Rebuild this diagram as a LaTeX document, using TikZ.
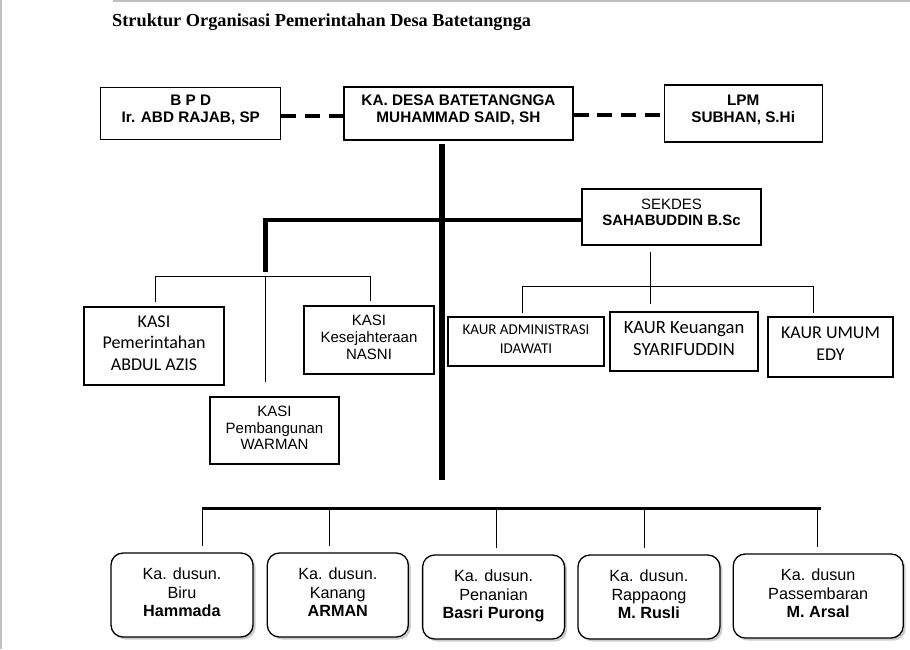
\documentclass[tikz,border=0pt]{standalone}
\usepackage{fontspec}
\setmainfont{Liberation Sans}
\newfontfamily\headserif{Liberation Serif}
\newfontfamily\calfont{Carlito}
\usetikzlibrary{positioning,calc,shadows}
\newcommand\hstrut{\rule[-0.55\baselineskip]{0pt}{1.25\baselineskip}}
\newcommand\lstrut{\rule[-0.1\baselineskip]{0pt}{0.8\baselineskip}}

\begin{document}
\begin{tikzpicture}[x=1pt, y=-1pt,
						every node/.style={align=center, inner sep=0pt},
						head/.style={draw, line width=1.2pt, font=\fontsize{15.3}{16.6}\selectfont\bfseries,
							execute at begin node=\hstrut, execute at end node=\hstrut},
						kasi/.style={draw, line width=1.2pt, font=\calfont\fontsize{18}{21.5}\selectfont,
							execute at begin node=\strut, execute at end node=\strut},
						plain/.style={draw, line width=1.2pt, font=\fontsize{15}{17}\selectfont,
							execute at begin node=\strut, execute at end node=\strut},
						dusun/.style={draw, line width=1.3pt, rounded corners=12pt, fill=white,
							drop shadow={shadow xshift=2.5pt, shadow yshift=-2.5pt, fill=black!40},
							minimum width=142pt, minimum height=84pt, font=\fontsize{16.2}{18.8}\selectfont,
							execute at begin node=\strut, execute at end node=\strut},
						link/.style={line width=1pt},
						bar/.style={line width=5.5pt},
						dashline/.style={line width=4pt, dash pattern=on 15pt off 8.7pt}]

			\useasboundingbox (0,0) rectangle (910,649);
			\draw[black!25, line width=1.5pt] (113,0.8) -- (910,0.8);
			\draw[black!25, line width=1.5pt] (0.8,0) -- (0.8,649);

			\node[anchor=base west, font=\headserif\fontsize{18.3}{20}\selectfont\bfseries] (title)
				at (112,26.7) {Struktur Organisasi Pemerintahan Desa Batetangnga};

			\node [head] (KD) at (458.5,113.5) [minimum width=229pt, minimum height=53pt]
				{KA. DESA BATETANGNGA\\MUHAMMAD SAID, SH};

			\node [head] (BPD) [left=62pt of KD, minimum width=180pt, minimum height=52pt]
				{B P D\\Ir. ABD RAJAB, SP};

			\node [head] (LPM) [right=90pt of KD, minimum width=158pt, minimum height=57pt]
				{LPM\\SUBHAN, S.Hi};

			\node [head, font=\fontsize{15}{16}\selectfont] (SEK) at (671.5,217) [minimum width=179pt, minimum height=56pt]
				{SEKDES\\\textbf{SAHABUDDIN B.Sc}};

			\node [kasi, execute at end node=\lstrut] (KPem) at (154,346) [minimum width=140pt, minimum height=78pt]
				{KASI\\Pemerintahan\\ABDUL AZIS};

			\node [plain] (KKes) at (369,340) [minimum width=130pt, minimum height=68pt]
				{KASI\\Kesejahteraan\\NASNI};

			\node [plain, font=\fontsize{15}{16.7}\selectfont] (KPemb) at (274.5,430.5) [minimum width=129pt, minimum height=67pt]
				{KASI\\Pembangunan\\WARMAN};

			\node [kasi, font=\calfont\fontsize{15}{19}\selectfont, execute at end node=\lstrut] (KAdm) at (526,341.5) [minimum width=156pt, minimum height=49pt]
				{KAUR ADMINISTRASI\\IDAWATI};

			\node [kasi, font=\calfont\fontsize{18.6}{21.7}\selectfont] (KKeu) at (684,341.5) [minimum width=148pt, minimum height=59pt]
				{KAUR Keuangan\\SYARIFUDDIN};

			\node [kasi, font=\calfont\fontsize{18}{22}\selectfont] (KUmum) at (830.5,347) [minimum width=125pt, minimum height=60pt]
				{KAUR UMUM\\EDY};

			\node [dusun] (D1) at (182,595) {Ka. dusun.\\Biru\\\textbf{Hammada}};
			\node [dusun, minimum width=141pt] (D2) [right=13pt of D1] {Ka. dusun.\\Kanang\\\textbf{ARMAN}};
			\node [dusun] (D3) [right=13pt of D2, yshift=-2pt] {Ka. dusun.\\Penanian\\\textbf{Basri Purong}};
			\node [dusun] (D4) [right=12pt of D3] {Ka. dusun.\\Rappaong\\\textbf{M. Rusli}};
			\node [dusun, minimum width=170pt] (D5) [right=12pt of D4, yshift=1pt] {Ka. dusun\\Passembaran\\\textbf{M. Arsal}};

			% top row
			\draw[dashline] ([yshift=-2pt]BPD.east) -- ([yshift=-2pt]KD.west);
			\draw[dashline] ([yshift=-1.5pt]KD.east) -- ([yshift=-1.5pt]LPM.west);

			\coordinate (vtop) at (442,144);
			\coordinate (vbot) at (442,480);
			\draw[bar] (vtop) -- (vbot);

			\coordinate (kasitop) at (265.5,272);
			\draw[bar, line width=4.5pt] (kasitop) |- ([yshift=-3pt]SEK.west);

			% kasi
			\coordinate (kL) at (155.7,276.7);
			\coordinate (kR) at (370.7,276.7);
			\coordinate (kM) at (265.3,382);
			\draw[link] ($(kL |- KPem.north)+(0,-4)$) -- (kL) -- (kR) -- ($(kR |- KKes.north)+(0,-4)$);
			\draw[link] (kL -| kM) -- (kM);

			% kaur
			\coordinate (uL) at (522.3,286.7);
			\coordinate (uR) at (813.3,286.7);
			\coordinate (uM) at (650.7,304);
			\draw[link] ($(uL |- KAdm.north)+(0,-3)$) -- (uL) -- (uR) -- ($(uR |- KUmum.north)+(0,-3)$);
			\draw[link] ($(uM |- SEK.south)+(0,6)$) -- (uM);

			% dusun
			\coordinate (dL) at (202,508.3);
			\coordinate (dR) at (820.7,508.3);
			\draw[line width=3.2pt] (dL) -- (dR);
			\foreach \x/\n in {202/D1, 329.3/D2, 496.7/D3, 644.3/D4, 817.3/D5}{
				\coordinate (d\n) at (\x,508.3);
				\draw[link] (d\n) -- ($(d\n |- \n.north)+(0,-6)$);
			}

		\end{tikzpicture}
\end{document}
